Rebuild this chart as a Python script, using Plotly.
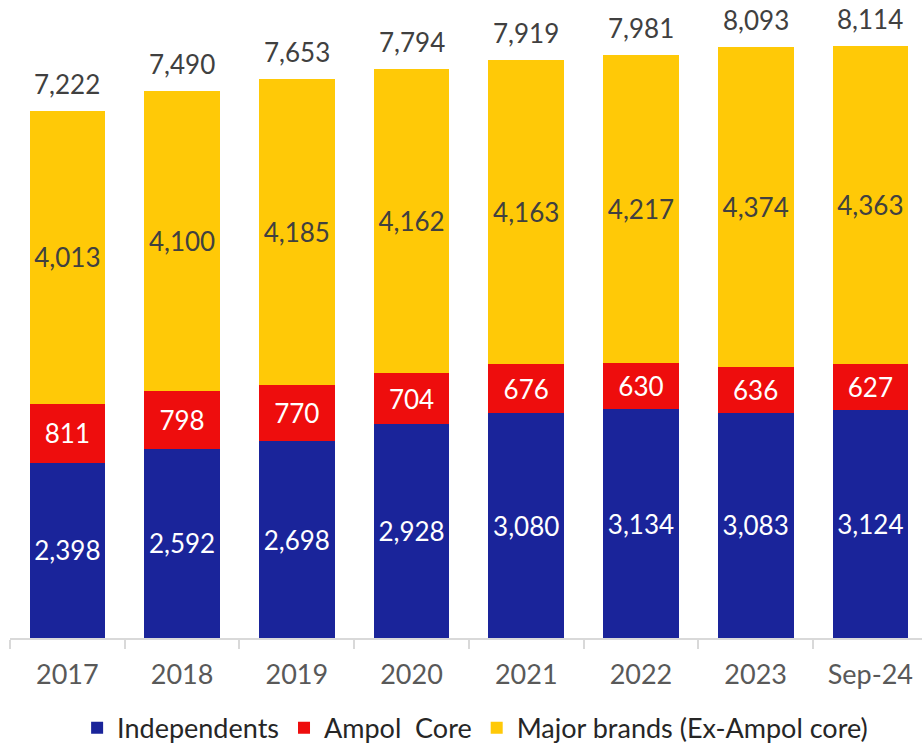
import plotly.graph_objects as go

categories = ["2017", "2018", "2019", "2020", "2021", "2022", "2023", "Sep-24"]
independents = [2398, 2592, 2698, 2928, 3080, 3134, 3083, 3124]
ampol_core = [811, 798, 770, 704, 676, 630, 636, 627]
major_brands = [4013, 4100, 4185, 4162, 4163, 4217, 4374, 4363]

totals = [a + b + c for a, b, c in zip(independents, ampol_core, major_brands)]

FONT = "Lato"
BLUE = "#1A249A"
RED = "#EE0D0D"
YELLOW = "#FFC907"


def fmt(v):
    return f"{v:,}"


fig = go.Figure()

series = [
    ("Independents", independents, BLUE, "white"),
    ("Ampol\u00a0 Core", ampol_core, RED, "white"),
    ("Major brands (Ex-Ampol core)", major_brands, YELLOW, "#404040"),
]
for name, vals, color, tcolor in series:
    fig.add_trace(go.Bar(
        x=categories, y=vals, name=name,
        marker=dict(color=color, line=dict(width=0)),
        text=[fmt(v) for v in vals],
        textposition="inside", insidetextanchor="middle", textangle=0,
        textfont=dict(family=FONT, size=26, color=tcolor),
        hoverinfo="skip",
    ))

# Totals above each stack (x given as category index)
for i, tot in enumerate(totals):
    fig.add_annotation(
        x=i, y=tot, xref="x", yref="y", text=fmt(tot), showarrow=False,
        yanchor="middle", yshift=27,
        font=dict(family=FONT, size=26, color="#404040"),
    )

fig.update_layout(
    barmode="stack",
    bargap=0.34,
    width=922, height=747,
    margin=dict(l=10, r=0, t=3, b=109, autoexpand=False),
    paper_bgcolor="white", plot_bgcolor="white",
    uniformtext=dict(minsize=26, mode="show"),
    showlegend=True,
    legend=dict(
        orientation="h", x=0.51, xanchor="center", y=-0.142, yanchor="middle",
        font=dict(family=FONT, size=27, color="#262626"),
        traceorder="normal", itemwidth=30, borderwidth=0,
    ),
    xaxis=dict(
        type="category", range=[-0.5, 7.45], automargin=False,
        showline=True, linecolor="#D9D9D9", linewidth=2,
        ticks="outside", tickson="boundaries", ticklen=9, tickcolor="#D9D9D9", tickwidth=2,
        ticklabelstandoff=12,
        tickfont=dict(family=FONT, size=27, color="#595959"),
        showgrid=False, zeroline=False,
    ),
    yaxis=dict(range=[0, 8700], visible=False, showgrid=False, zeroline=False),
)

fig.write_html("out.html")
